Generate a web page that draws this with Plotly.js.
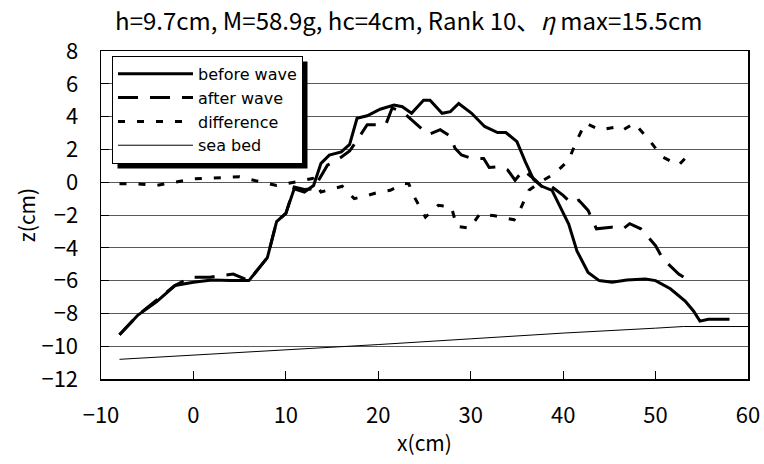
<!DOCTYPE html>
<html>
<head>
<meta charset="utf-8">
<script src="https://cdn.plot.ly/plotly-3.0.1.min.js"></script>
<style>html,body{margin:0;padding:0;background:#fff;}#chart{width:764px;height:464px;}</style>
</head>
<body>
<div id="chart"></div>
<script>
// ---- data ----
var beforeX = [-8, -6, -4, -2, 0, 2, 4, 6, 7, 8, 9, 10, 10.9, 12, 13, 13.8, 14.7, 16, 16.9, 17.7, 18.8, 20.2, 21.7, 22.6, 23.6, 24.9, 25.6, 26.9, 27.8, 28.7, 30.1, 31.5, 32.9, 33.8, 35.0, 35.9, 36.8, 37.7, 38.8, 39.7, 40.6, 41.5, 42.7, 43.9, 45.3, 46.9, 48.9, 50.0, 51.6, 53.2, 54.1, 54.8, 55.7, 58.0];
var beforeZ = [-9.3, -8.1, -7.3, -6.3, -6.1, -5.97, -6.0, -6.0, -5.3, -4.6, -2.4, -1.9, -0.4, -0.6, -0.2, 1.15, 1.65, 1.85, 2.3, 3.9, 4.05, 4.45, 4.7, 4.6, 4.2, 5.0, 5.0, 4.2, 4.3, 4.8, 4.2, 3.4, 3.03, 3.03, 2.47, 1.25, 0.16, -0.25, -0.5, -1.5, -2.55, -4.2, -5.5, -6.0, -6.1, -5.97, -5.9, -6.0, -6.5, -7.25, -7.85, -8.47, -8.36, -8.36];

var afterX = [-8, -6, -4, -2, -0.3, 1.8, 2.9, 4.3, 6, 7, 8, 9, 10, 10.9, 12, 13, 14.5, 15.8, 16.9, 17.6, 18.8, 20.0, 20.8, 21.5, 22.6, 24.4, 25.4, 26.7, 27.8, 28.3, 29.0, 30.1, 31.4, 32.0, 33.1, 34.0, 34.8, 35.7, 37.0, 38.1, 38.8, 40.0, 40.9, 41.7, 42.7, 43.6, 45.2, 46.5, 47.2, 48.4, 50.0, 50.7, 51.2, 52.5, 53.6, 54.0];
var afterZ = [-9.3, -8.1, -7.2, -6.3, -5.8, -5.8, -5.7, -5.6, -6.0, -5.3, -4.6, -2.4, -1.9, -0.3, -0.45, -0.4, 1.04, 1.45, 1.9, 2.47, 3.5, 3.5, 3.5, 4.52, 4.3, 3.4, 2.9, 3.2, 2.8, 2.07, 1.66, 1.45, 1.45, 0.9, 0.94, 0.74, 0.12, 0.74, 0.12, -0.49, -0.29, -0.8, -1.3, -1.1, -1.72, -2.84, -2.74, -2.84, -2.53, -2.84, -3.87, -4.58, -4.89, -5.6, -6.0, -6.0];

var diffX = [-8, -6, -4, -2, 0, 2, 3, 5, 6.8, 9, 11.1, 12.9, 13.8, 16.1, 17.4, 18.5, 20.1, 21.3, 22.8, 23.3, 24.0, 25.1, 26.5, 27.9, 28.5, 29.9, 31.0, 32.6, 34.7, 35.4, 36.3, 37.5, 39.1, 40.6, 41.5, 42.4, 44.0, 46.0, 46.5, 47.7, 49.3, 50.7, 52.5, 53.7];
var diffZ = [-0.1, -0.1, -0.2, 0.0, 0.2, 0.25, 0.27, 0.33, 0.08, -0.2, 0.02, 0.23, -0.6, -0.25, -1.0, -0.86, -0.6, -0.49, -0.08, -0.1, -1.0, -2.13, -1.41, -1.5, -2.7, -2.8, -1.92, -2.05, -2.29, -1.6, -0.49, 0.0, 0.53, 1.35, 2.58, 3.6, 3.19, 3.39, 3.19, 3.6, 2.58, 1.55, 1.04, 1.76];

var seabedX = [-8, 0, 10, 20, 30, 40, 50, 53, 60];
var seabedZ = [-10.8, -10.55, -10.2, -9.9, -9.55, -9.2, -8.9, -8.8, -8.8];

var seriesNames = ['before wave', 'after wave', 'difference', 'sea bed'];
var xTicks = [-10, 0, 10, 20, 30, 40, 50, 60];
var yTicks = [8, 6, 4, 2, 0, -2, -4, -6, -8, -10, -12];
var titleText = 'h=9.7cm, M=58.9g, hc=4cm, Rank 10、<i>η</i> max=15.5cm';

var FONT = '"Noto Sans CJK JP", "Liberation Sans", sans-serif';
var LEGEND_FONT = '"DejaVu Sans", "Noto Sans", sans-serif';
function fmt(v) { return v < 0 ? '\u2212' + Math.abs(v) : String(v); }

var traces = [
  {x: beforeX, y: beforeZ, name: seriesNames[0], mode: 'lines', line: {color: '#000', width: 3, dash: 'solid'}},
  {x: afterX, y: afterZ, name: seriesNames[1], mode: 'lines', line: {color: '#000', width: 3, dash: '20px,12px'}},
  {x: diffX, y: diffZ, name: seriesNames[2], mode: 'lines', line: {color: '#000', width: 3, dash: '7px,12px'}},
  {x: seabedX, y: seabedZ, name: seriesNames[3], mode: 'lines', line: {color: '#000', width: 1}}
];

var layout = {
  width: 764, height: 464,
  margin: {l: 101, r: 16, t: 51, b: 85},
  paper_bgcolor: '#fff', plot_bgcolor: '#fff',
  font: {family: FONT, color: '#000', size: 18},
  showlegend: true,
  title: {text: titleText, font: {family: FONT, size: 24, color: '#000'}, x: 0.535, xanchor: 'center', y: 0.953, yanchor: 'middle'},
  xaxis: {
    range: [-10, 60], tickmode: 'array', tickvals: xTicks, ticktext: xTicks.map(fmt),
    showgrid: false, zeroline: false, showline: true, linecolor: '#000', linewidth: 1.5, mirror: true,
    ticks: 'inside', ticklen: 8, tickcolor: '#000', tickwidth: 1,
    tickfont: {family: FONT, size: 22}, ticklabelstandoff: 16,
    title: {text: 'x(cm)', font: {family: FONT, size: 21}, standoff: 8}
  },
  yaxis: {
    range: [-12, 8], tickmode: 'array', tickvals: yTicks, ticktext: yTicks.map(fmt),
    showgrid: true, gridcolor: '#5a5a5a', gridwidth: 1, zeroline: false,
    showline: true, linecolor: '#000', linewidth: 1.5, mirror: true,
    ticks: 'inside', ticklen: 8, tickcolor: '#000', tickwidth: 1,
    tickfont: {family: FONT, size: 22}, ticklabelstandoff: 17,
    title: {text: 'z(cm)', font: {family: FONT, size: 21}, standoff: 0}
  },
  legend: {
    x: 0.017, y: 0.985, xanchor: 'left', yanchor: 'top',
    bgcolor: '#fff', bordercolor: '#000', borderwidth: 1,
    font: {family: LEGEND_FONT, size: 16, color: '#000'},
    itemwidth: 75, tracegroupgap: 0
  }
};

var gd = document.getElementById('chart');
Plotly.newPlot(gd, traces, layout, {displayModeBar: false, staticPlot: true}).then(function () {
  // drop shadow behind the legend box (bottom/right), sized from the drawn legend
  var bg = gd.querySelector('.legend .bg');
  if (!bg) return;
  var r = bg.getBoundingClientRect();
  var c = gd.getBoundingClientRect();
  var s = gd._fullLayout._size;
  var off = 5;
  var px0 = r.left - c.left + off, px1 = r.right - c.left + off;
  var py0 = r.top - c.top + off, py1 = r.bottom - c.top + off;
  var shape = {
    type: 'rect', xref: 'paper', yref: 'paper', layer: 'above',
    x0: (px0 - s.l) / s.w, x1: (px1 - s.l) / s.w,
    y0: 1 - (py1 - s.t) / s.h, y1: 1 - (py0 - s.t) / s.h,
    fillcolor: '#000', line: {width: 0}
  };
  return Plotly.relayout(gd, {shapes: [shape]});
});
</script>
</body>
</html>
